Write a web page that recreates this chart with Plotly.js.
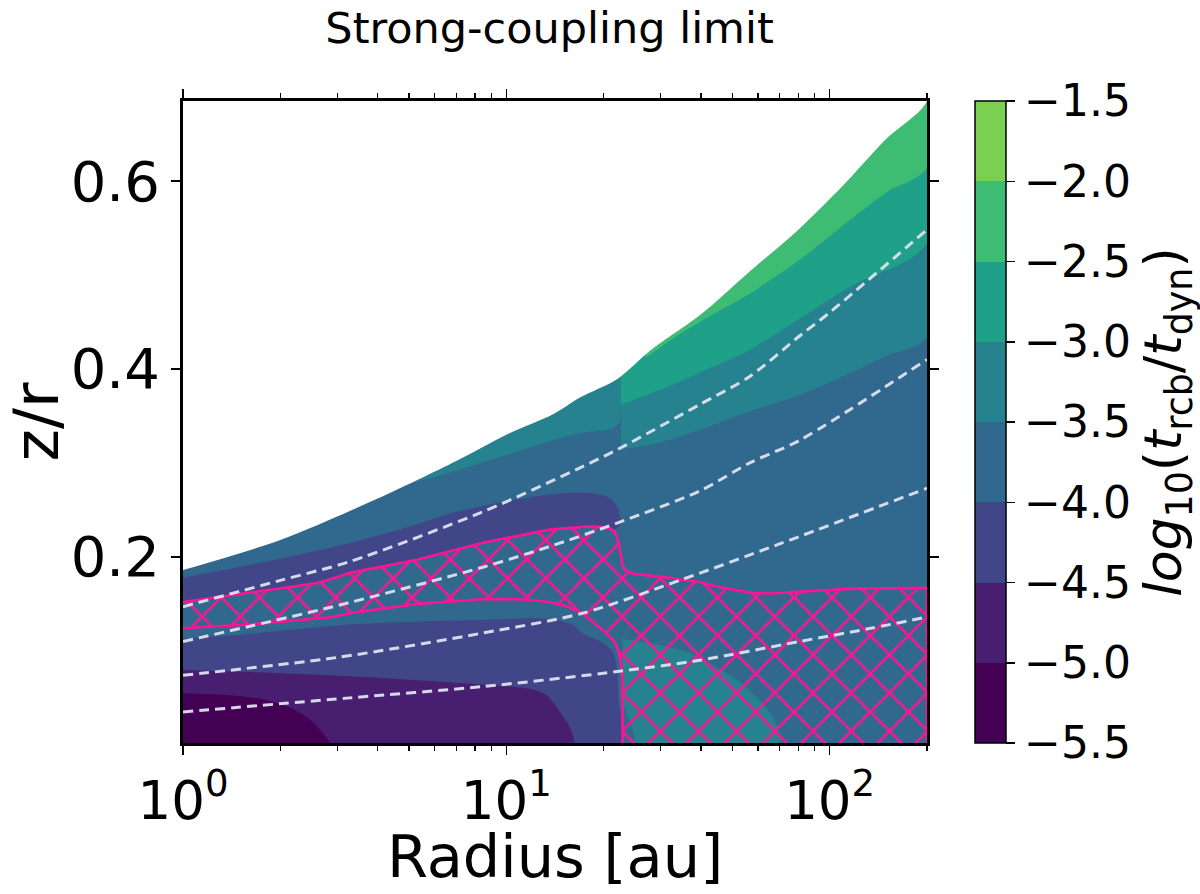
<!DOCTYPE html>
<html>
<head>
<meta charset="utf-8">
<script src="https://cdn.plot.ly/plotly-3.0.1.min.js"></script>
<style>html,body{margin:0;padding:0;background:#fff}#chart{width:1200px;height:894px}</style>
</head>
<body>
<div id="chart"></div>
<script>
// ---- colour levels (log10 t_rcb / t_dyn) ----
const levels = [-5.5, -5.0, -4.5, -4.0, -3.5, -3.0, -2.5, -2.0, -1.5];
const levelLabels = ['\u22125.5','\u22125.0','\u22124.5','\u22124.0','\u22123.5','\u22123.0','\u22122.5','\u22122.0','\u22121.5'];
const bandColors = ['#440154','#481f70','#404688','#31688e','#26828e','#1fa088','#3fbc73','#7ad151'];

// ---- disk surface (upper edge of the model domain) ----
const surfR = [1, 2, 4, 7, 10, 14, 17, 22, 28, 40, 55, 80, 110, 150, 200];
const surfZ = [0.186, 0.218, 0.262, 0.302, 0.330, 0.352, 0.370, 0.389, 0.420, 0.458, 0.500, 0.548, 0.595, 0.645, 0.685];

// ---- band region boundaries ----
// band -4.0..-3.5 (background of the disk)
const baseR = [1, 200, 200, 1];
const baseZ = [0, 0, 0.75, 0.75];
// band -3.5..-3.0, inner disk (r < 22.6 au), lower edge then up
const c4LeftR = [5.0, 6.0, 9.5, 13.6, 17.2, 21.2, 22.2, 22.6, 22.6, 5.0];
const c4LeftZ = [0.278, 0.285, 0.306, 0.323, 0.332, 0.336, 0.341, 0.350, 0.75, 0.75];
// band -3.5..-3.0, outer disk
const c4RightR = [22.6, 30, 39.6, 56.6, 80.7, 115, 150, 200, 200, 22.6];
const c4RightZ = [0.314, 0.322, 0.335, 0.355, 0.372, 0.395, 0.414, 0.434, 0.75, 0.75];
// band -3.0..-2.5, outer disk
const c5RightR = [22.6, 30, 39.6, 55, 71, 115, 200, 200, 22.6];
const c5RightZ = [0.362, 0.378, 0.396, 0.418, 0.441, 0.487, 0.534, 0.75, 0.75];
// band -2.5..-2.0, outer disk
const c6RightR = [27, 32, 39.6, 56.6, 80.7, 115, 150, 200, 200, 27];
const c6RightZ = [0.412, 0.430, 0.450, 0.480, 0.516, 0.558, 0.588, 0.614, 0.75, 0.75];
// band -4.5..-4.0, upper tongue
const tongueR = [1, 2, 3.3, 5, 7, 10, 14, 18, 20.5, 21.8, 22.4, 22.5, 21.5, 19.5, 13.6, 8.46, 5.29, 3.28, 2.58, 1.6, 1];
const tongueZ = [0.178, 0.198, 0.215, 0.232, 0.248, 0.259, 0.267, 0.268, 0.264, 0.256, 0.245, 0.235, 0.229, 0.232, 0.229, 0.215, 0.197, 0.183, 0.172, 0.162, 0.152];
// band -4.5..-4.0, lower region
const c2LowR = [1, 1.6, 3.3, 8.5, 13.6, 16, 17.2, 20, 21.4, 22.0, 22.2, 22.3, 1];
const c2LowZ = [0.113, 0.118, 0.128, 0.133, 0.134, 0.128, 0.119, 0.108, 0.098, 0.080, 0.050, 0.0, 0.0];
// band -5.0..-4.5
const c1R = [1, 3.3, 8.5, 12.1, 13.3, 14.3, 15.7, 16.1, 1];
const c1Z = [0.080, 0.073, 0.064, 0.059, 0.053, 0.040, 0.019, 0.0, 0.0];
// band -5.5..-5.0
const c0R = [1, 1.5, 1.85, 2.2, 2.45, 2.7, 2.85, 1];
const c0Z = [0.055, 0.052, 0.047, 0.038, 0.028, 0.013, 0.0, 0.0];
// band -3.5..-3.0, mid-plane blob in outer disk
const blobR = [22.9, 26, 30, 36.8, 40.5, 46, 50, 55, 60.5, 65, 68.5, 70, 25.3, 24.8, 23.8, 22.9];
const blobZ = [0.113, 0.110, 0.106, 0.098, 0.090, 0.080, 0.072, 0.062, 0.048, 0.035, 0.022, 0.0, 0.0, 0.012, 0.030, 0.045];

// ---- hatched region outline ----
const hatchR = [1, 1.6, 2.58, 2.91, 3.28, 5.29, 8.46, 13.6, 17.5, 19.5, 21.0, 21.6, 21.9, 22.2, 22.5, 22.7, 22.8, 23.0, 23.3, 24.0, 24.6, 30, 35.1, 39.6, 47, 56.6, 65, 80.7, 115, 200,
                200, 22.9, 22.9, 22.85, 22.7, 22.4, 22.0, 21.2, 19.9, 18.5, 17.2, 15.5, 13.6, 11, 8.46, 5.29, 3.28, 2.91, 1.6, 1];
const hatchZ = [0.152, 0.162, 0.172, 0.177, 0.183, 0.197, 0.215, 0.229, 0.232, 0.232, 0.230, 0.227, 0.223, 0.216, 0.207, 0.199, 0.193, 0.189, 0.186, 0.184, 0.182, 0.179, 0.176, 0.173, 0.167, 0.162, 0.161, 0.163, 0.166, 0.167,
                0.0, 0.0, 0.055, 0.070, 0.085, 0.095, 0.104, 0.113, 0.122, 0.131, 0.140, 0.147, 0.152, 0.155, 0.155, 0.150, 0.140, 0.136, 0.128, 0.124];

// ---- dashed reference curves ----
const dash1R = [1, 3.28, 8.46, 22, 39.6, 80.7, 134, 200];
const dash1Z = [0.035, 0.050, 0.062, 0.078, 0.090, 0.110, 0.124, 0.136];
const dash2R = [1, 3, 8.46, 17.2, 35, 69, 200];
const dash2Z = [0.074, 0.093, 0.119, 0.140, 0.176, 0.213, 0.273];
const dash3R = [1, 2.91, 8.46, 13.6, 22, 39.6, 56.6, 80.7, 200];
const dash3Z = [0.110, 0.147, 0.189, 0.211, 0.236, 0.270, 0.300, 0.324, 0.410];
const dash4R = [1, 2, 3.28, 8.46, 17.2, 22, 39.6, 56.6, 80.7, 100, 200];
const dash4Z = [0.147, 0.175, 0.195, 0.248, 0.296, 0.314, 0.362, 0.392, 0.435, 0.460, 0.548];

// ---- axis tick labels ----
const xTickVals = [1, 10, 100];
const xTickText = ['10<sup>0</sup>', '10<sup>1</sup>', '10<sup>2</sup>'];
const xMinorVals = [2,3,4,5,6,7,8,9,20,30,40,50,60,70,80,90,200];
const yTickVals = [0.2, 0.4, 0.6];
const yTickText = ['0.2', '0.4', '0.6'];

function region(xs, ys, color, smooth) {
  return {type:'scatter', x:xs, y:ys, mode:'lines', fill:'toself', fillcolor:color,
          line:{width:0, color:color, shape: smooth ? 'spline' : 'linear', smoothing:0.8},
          hoverinfo:'skip', showlegend:false};
}
function dashed(xs, ys) {
  return {type:'scatter', x:xs, y:ys, mode:'lines',
          line:{color:'rgba(222,226,238,0.95)', width:3, dash:'10px,6px', shape:'spline', smoothing:0.8},
          hoverinfo:'skip', showlegend:false};
}

const skyR = surfR.concat([200, 1]);
const skyZ = surfZ.concat([0.75, 0.75]);

const cscale = [];
bandColors.forEach((c, i) => { cscale.push([i/8, c]); cscale.push([(i+1)/8, c]); });

const traces = [
  region(baseR, baseZ, bandColors[3], false),
  region(c4LeftR, c4LeftZ, bandColors[4], true),
  region(c4RightR, c4RightZ, bandColors[4], true),
  region(c5RightR, c5RightZ, bandColors[5], true),
  region(c6RightR, c6RightZ, bandColors[6], true),
  region(tongueR, tongueZ, bandColors[2], true),
  region(c2LowR, c2LowZ, bandColors[2], true),
  region(c1R, c1Z, bandColors[1], true),
  region(c0R, c0Z, bandColors[0], true),
  region(blobR, blobZ, bandColors[4], true),
  region(skyR, skyZ, '#ffffff', true),
  {type:'scatter', x:hatchR, y:hatchZ, mode:'lines', fill:'toself', fillcolor:'rgba(0,0,0,0)',
   fillpattern:{shape:'x', size:27, solidity:0.18, fgcolor:'#ff1493', bgcolor:'rgba(0,0,0,0)', fillmode:'replace'},
   line:{color:'#ff1493', width:2.6}, hoverinfo:'skip', showlegend:false},
  dashed(dash1R, dash1Z), dashed(dash2R, dash2Z), dashed(dash3R, dash3Z), dashed(dash4R, dash4Z),
  {type:'scatter', x:[10], y:[-1], mode:'markers', hoverinfo:'skip', showlegend:false,
   marker:{size:1, color:[levels[0]], cmin:levels[0], cmax:levels[levels.length-1], colorscale:cscale, showscale:true,
     colorbar:{x:1.0645, xanchor:'left', y:0.5, yanchor:'middle', len:1, lenmode:'fraction',
       thickness:31, thicknessmode:'pixels', xpad:0, ypad:0,
       outlinewidth:1.5, outlinecolor:'#000',
       tickmode:'array', tickvals:levels, ticktext:levelLabels,
       ticks:'outside', ticklen:9, tickwidth:1.5, tickcolor:'#000',
       tickfont:{size:44, color:'#000', family:'DejaVu Sans'},
       title:{text:'<i>log</i><sub>10</sub>(<i>t</i><sub>rcb</sub>/<i>t</i><sub>dyn</sub>)', side:'right',
              font:{size:52, color:'#000', family:'DejaVu Sans'}}}}}
];

const layout = {
  width:1200, height:894,
  margin:{l:183, r:273, t:101, b:151, autoexpand:false},
  paper_bgcolor:'#ffffff', plot_bgcolor:'#ffffff',
  font:{family:'DejaVu Sans', color:'#000'},
  showlegend:false,
  title:{text:'Strong-coupling limit', font:{size:43, color:'#000'}, xref:'container', x:0.458, xanchor:'center',
         yref:'container', y:1-28/894, yanchor:'middle'},
  xaxis:{type:'log', range:[0, Math.log10(200)], tickmode:'array', tickvals:xTickVals, ticktext:xTickText,
    ticks:'outside', ticklen:9, tickwidth:1.5, tickcolor:'#000', showline:true, linewidth:3, linecolor:'#000',
    mirror:'allticks', showgrid:false, zeroline:false, automargin:false,
    tickfont:{size:53, color:'#000'},
    minor:{tickmode:'array', tickvals:xMinorVals, ticks:'outside', ticklen:5, tickwidth:1.2, tickcolor:'#000', showgrid:false}},
  yaxis:{range:[0.002, 0.685], tickmode:'array', tickvals:yTickVals, ticktext:yTickText,
    ticks:'outside', ticklen:9, tickwidth:1.5, tickcolor:'#000', showline:true, linewidth:3, linecolor:'#000',
    mirror:'allticks', showgrid:false, zeroline:false, automargin:false,
    tickfont:{size:56, color:'#000'},
    title:{text:'z/r', font:{size:62, color:'#000'}, standoff:6}},
  annotations:[{text:'Radius [au]', xref:'paper', x:0.5, xanchor:'center', yref:'paper', y:(743-892)/642, yanchor:'bottom',
                showarrow:false, font:{size:59, color:'#000'}, borderpad:0}]
};

Plotly.newPlot('chart', traces, layout, {displayModeBar:false, staticPlot:true});
</script>
</body>
</html>
